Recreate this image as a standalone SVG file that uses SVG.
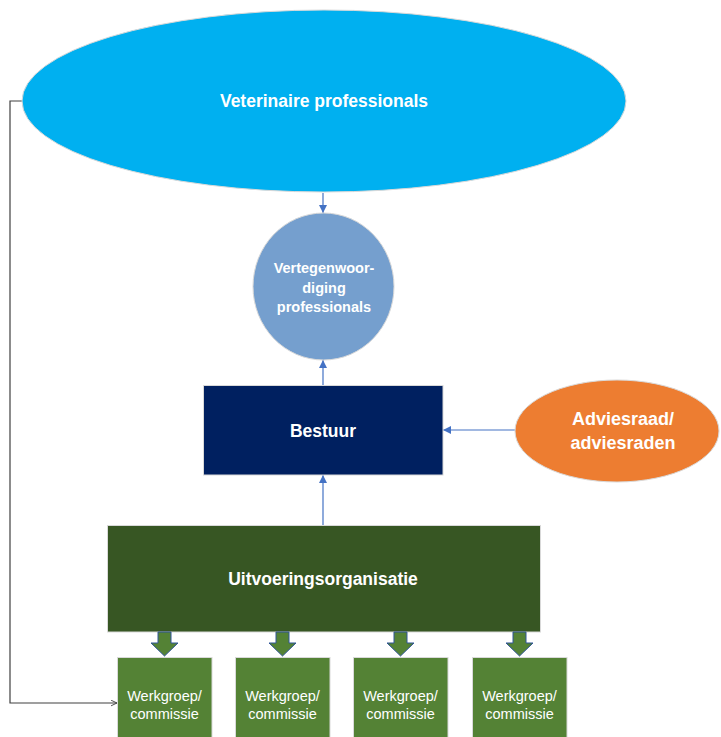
<svg xmlns="http://www.w3.org/2000/svg" width="721" height="737" viewBox="0 0 721 737">
<defs>
<style>
.lbl{font-family:"Liberation Sans",Arial,sans-serif;fill:#FFFFFF;text-anchor:middle}
.b{font-weight:bold}
.shape{stroke:#D9D9D9;stroke-width:1}
.conn{stroke:#4472C4;stroke-width:1.2;fill:none}
.blk{fill:#548235;stroke:#2F5597;stroke-width:1}
</style>
<marker id="ah" viewBox="0 0 10 10" refX="10" refY="5" markerWidth="8" markerHeight="8" markerUnits="userSpaceOnUse" orient="auto">
<path d="M0,0 L10,5 L0,10 z" fill="#4472C4"/>
</marker>
<marker id="open" viewBox="0 0 10 10" refX="9.5" refY="5" markerWidth="7" markerHeight="7" markerUnits="userSpaceOnUse" orient="auto">
<path d="M1,1 L9.5,5 L1,9" fill="none" stroke="#404040" stroke-width="1.3"/>
</marker>
</defs>
<rect width="721" height="737" fill="#FFFFFF"/>
<g id="connectors">
<line class="conn" x1="323" y1="193" x2="323" y2="213" marker-end="url(#ah)"/>
<line class="conn" x1="323" y1="385" x2="323" y2="360" marker-end="url(#ah)"/>
<line class="conn" x1="323" y1="525" x2="323" y2="475" marker-end="url(#ah)"/>
<line class="conn" x1="516" y1="430" x2="443" y2="430" marker-end="url(#ah)"/>
<polyline points="22,101 10,101 10,703 117,703" fill="none" stroke="#404040" stroke-width="1.2" marker-end="url(#open)"/>
</g>
<g id="veterinaire">
<ellipse class="shape" cx="324" cy="101" rx="302" ry="91" fill="#00B0F0"/>
<text class="lbl b" x="324" y="107" font-size="17.5">Veterinaire professionals</text>
</g>
<g id="vertegenwoordiging">
<ellipse class="shape" cx="323.5" cy="286.5" rx="70.5" ry="73.5" fill="#759FCE"/>
<text class="lbl b" font-size="14.5"><tspan x="324" y="273">Vertegenwoor-</tspan><tspan x="324" y="292.5">diging</tspan><tspan x="324" y="312">professionals</tspan></text>
</g>
<g id="bestuur">
<rect class="shape" x="203.5" y="385.5" width="239.5" height="89.5" fill="#002060"/>
<text class="lbl b" x="323" y="437" font-size="17.5">Bestuur</text>
</g>
<g id="adviesraad">
<ellipse class="shape" cx="617" cy="431" rx="102" ry="51" fill="#ED7D31"/>
<text class="lbl b" font-size="18"><tspan x="623" y="425">Adviesraad/</tspan><tspan x="623" y="449">adviesraden</tspan></text>
</g>
<g id="uitvoeringsorganisatie">
<rect class="shape" x="107.5" y="525.5" width="433" height="106.5" fill="#375623"/>
<text class="lbl b" x="323" y="585" font-size="17.5">Uitvoeringsorganisatie</text>
</g>
<g id="block-arrows">
<path class="blk" d="M158,632 H171 V643 H178 L164.5,656 L151,643 H158 Z"/>
<path class="blk" d="M276,632 H289 V643 H296 L282.5,656 L269,643 H276 Z"/>
<path class="blk" d="M394,632 H407 V643 H414 L400.5,656 L387,643 H394 Z"/>
<path class="blk" d="M513,632 H526 V643 H533 L519.5,656 L506,643 H513 Z"/>
</g>
<g id="werkgroep1">
<rect class="shape" x="117.5" y="657.5" width="94.5" height="85" fill="#548235"/>
<text class="lbl" font-size="14.5"><tspan x="164.5" y="701">Werkgroep/</tspan><tspan x="164.5" y="719">commissie</tspan></text>
</g>
<g id="werkgroep2">
<rect class="shape" x="235.5" y="657.5" width="94.5" height="85" fill="#548235"/>
<text class="lbl" font-size="14.5"><tspan x="282.5" y="701">Werkgroep/</tspan><tspan x="282.5" y="719">commissie</tspan></text>
</g>
<g id="werkgroep3">
<rect class="shape" x="353.5" y="657.5" width="94.5" height="85" fill="#548235"/>
<text class="lbl" font-size="14.5"><tspan x="400.5" y="701">Werkgroep/</tspan><tspan x="400.5" y="719">commissie</tspan></text>
</g>
<g id="werkgroep4">
<rect class="shape" x="472.5" y="657.5" width="94.5" height="85" fill="#548235"/>
<text class="lbl" font-size="14.5"><tspan x="519.5" y="701">Werkgroep/</tspan><tspan x="519.5" y="719">commissie</tspan></text>
</g>
</svg>
